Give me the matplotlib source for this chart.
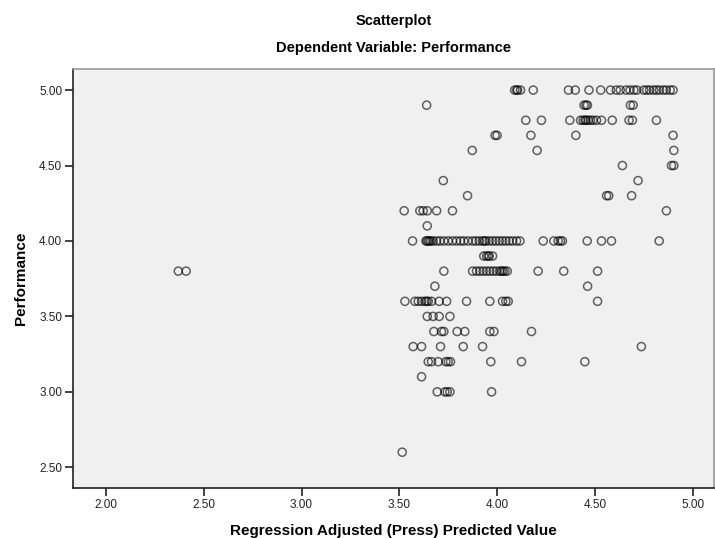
import numpy as np
import matplotlib
matplotlib.use("Agg")
import matplotlib.pyplot as plt

plt.rcParams['font.family'] = ['Liberation Sans', 'DejaVu Sans']

perf_levels = [5.0, 4.9, 4.8, 4.7, 4.6, 4.5, 4.4, 4.3, 4.2, 4.1, 4.0,
               3.9, 3.8, 3.7, 3.6, 3.5, 3.4, 3.3, 3.2, 3.1, 3.0, 2.6]

pred_5_0 = [4.09, 4.10, 4.105, 4.12, 4.185, 4.365, 4.40, 4.47, 4.53, 4.58, 4.61, 4.63, 4.66,
            4.68, 4.70, 4.715, 4.75, 4.765, 4.78, 4.80, 4.815, 4.83, 4.85, 4.865, 4.885, 4.90]
pred_4_9 = [3.64, 4.445, 4.455, 4.462, 4.682, 4.696]
pred_4_8 = [4.147, 4.227, 4.372, 4.427, 4.44, 4.45, 4.455, 4.466, 4.478, 4.491, 4.509,
            4.534, 4.589, 4.675, 4.692, 4.815]
pred_4_7 = [3.99, 4.00, 4.173, 4.403, 4.90]
pred_4_6 = [3.873, 4.205, 4.904]
pred_4_5 = [4.641, 4.892, 4.904]
pred_4_4 = [3.725, 4.721]
pred_4_3 = [3.849, 4.56, 4.571, 4.688]
pred_4_2 = [3.525, 3.605, 3.622, 3.643, 3.691, 3.772, 4.866]
pred_4_1 = [3.643]
pred_4_0 = [3.568, 3.636, 3.642, 3.648, 3.655, 3.662, 3.673, 3.691, 3.708, 3.728, 3.750,
            3.772, 3.793, 3.813, 3.830, 3.852, 3.875, 3.892, 3.909, 3.926, 3.935, 3.943,
            3.960, 3.977, 3.994, 4.011, 4.028, 4.045, 4.062, 4.08, 4.10, 4.117, 4.236,
            4.29, 4.312, 4.324, 4.334, 4.461, 4.534, 4.585, 4.829]
pred_3_9 = [3.932, 3.946, 3.955, 3.960, 3.977]
pred_3_8 = [2.37, 2.41, 3.728, 3.875, 3.895, 3.912, 3.929, 3.946, 3.963, 3.980, 3.997,
            4.014, 4.023, 4.031, 4.040, 4.052, 4.21, 4.341, 4.514]
pred_3_7 = [3.682, 4.463]
pred_3_6 = [3.529, 3.580, 3.597, 3.614, 3.631, 3.640, 3.648, 3.665, 3.704, 3.742, 3.844,
            3.963, 4.028, 4.045, 4.057, 4.514]
pred_3_5 = [3.643, 3.673, 3.704, 3.759]
pred_3_4 = [3.677, 3.716, 3.728, 3.796, 3.835, 3.963, 3.984, 4.176]
pred_3_3 = [3.571, 3.614, 3.711, 3.827, 3.926, 4.738]
pred_3_2 = [3.648, 3.665, 3.699, 3.738, 3.750, 3.762, 3.968, 4.125, 4.449]
pred_3_1 = [3.614]
pred_3_0 = [3.694, 3.733, 3.745, 3.759, 3.972]
pred_2_6 = [3.515]

pred_rows = [pred_5_0, pred_4_9, pred_4_8, pred_4_7, pred_4_6, pred_4_5, pred_4_4,
             pred_4_3, pred_4_2, pred_4_1, pred_4_0, pred_3_9, pred_3_8, pred_3_7,
             pred_3_6, pred_3_5, pred_3_4, pred_3_3, pred_3_2, pred_3_1, pred_3_0, pred_2_6]

x_ticks = [2.0, 2.5, 3.0, 3.5, 4.0, 4.5, 5.0]
y_ticks = [2.5, 3.0, 3.5, 4.0, 4.5, 5.0]

x = np.concatenate([np.array(r, dtype=float) for r in pred_rows])
y = np.concatenate([np.full(len(r), lvl) for r, lvl in zip(pred_rows, perf_levels)])

fig = plt.figure(figsize=(7.15, 5.38), dpi=100)
ax = fig.add_axes([0.1025, 0.093, 0.896, 0.778])
ax.set_facecolor('#f0f0f0')

ax.scatter(x, y, s=34, facecolors='none', edgecolors='black', linewidths=1.1, alpha=0.6)

# SPSS pads the axis a little beyond the outer ticks
ax.set_xlim(1.833, 5.109)
ax.set_ylim(2.363, 5.137)
ax.set_xticks(x_ticks)
ax.set_yticks(y_ticks)
ax.set_xticklabels([f"{t:.2f}" for t in x_ticks])
ax.set_yticklabels([f"{t:.2f}" for t in y_ticks])
ax.tick_params(axis='both', direction='out', length=6, width=1.2, labelsize=8.5,
               colors='#222222', pad=2)
ax.tick_params(top=False, right=False)

for side in ['left', 'bottom']:
  ax.spines[side].set_color('#222222')
  ax.spines[side].set_linewidth(1.2)
for side in ['top', 'right']:
  ax.spines[side].set_color('#999999')
  ax.spines[side].set_linewidth(1.2)

ax.set_xlabel("Regression Adjusted (Press) Predicted Value", fontsize=11, fontweight='bold', labelpad=9)
ax.set_ylabel("Performance", fontsize=11, fontweight='bold', labelpad=8)

fig.text(0.5 * (0.1025 + 0.9985), 1 - 21 / 538, "Scatterplot", ha='center', va='center',
         fontsize=10.5, fontweight='bold')
fig.text(0.5 * (0.1025 + 0.9985), 1 - 48 / 538, "Dependent Variable: Performance", ha='center',
         va='center', fontsize=10.5, fontweight='bold')

fig.savefig("out.png", dpi=100)
